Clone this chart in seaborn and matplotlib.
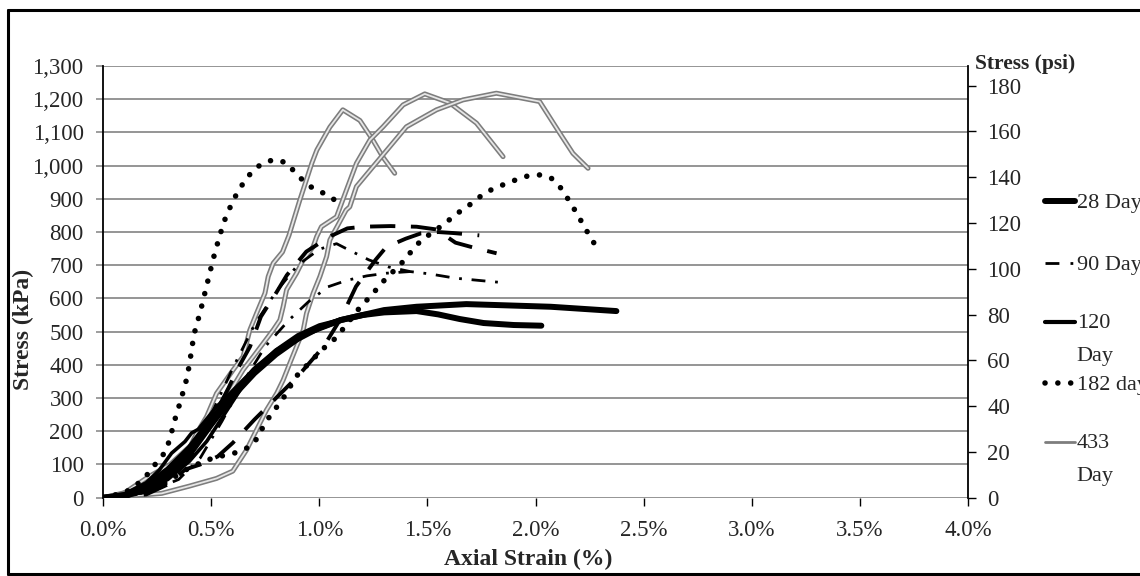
import numpy as np
import pandas as pd
import seaborn as sns
import matplotlib
matplotlib.use("Agg")
import matplotlib.pyplot as plt
import matplotlib.patheffects as pe
from matplotlib.lines import Line2D
from matplotlib.legend_handler import HandlerLine2D
from matplotlib.ticker import FuncFormatter, MultipleLocator

# ---------------- data (strain in %, stress in kPa) ----------------
d28a_strain = [0, 0.10, 0.20, 0.30, 0.40, 0.50, 0.60, 0.70, 0.80, 0.94, 1.10, 1.30, 1.45, 1.68, 2.07, 2.374]
d28a_stress = [0, 8, 35, 85, 150, 235, 310, 385, 440, 495, 535, 565, 575, 583, 575, 562]
d28b_strain = [0, 0.10, 0.20, 0.30, 0.40, 0.50, 0.60, 0.70, 0.80, 0.90, 1.00, 1.10, 1.20, 1.30, 1.45, 1.55, 1.65, 1.76, 1.90, 2.027]
d28b_stress = [0, 5, 25, 65, 130, 220, 305, 375, 432, 478, 512, 535, 550, 558, 562, 552, 538, 526, 520, 518]

d120a_strain = [0, 0.10, 0.20, 0.26, 0.317, 0.379, 0.41, 0.441, 0.525, 0.602, 0.71, 0.818, 0.941, 1.095, 1.25]
d120a_stress = [0, 12, 45, 83, 134, 169, 195, 206, 274, 324, 395, 445, 495, 535, 555]
d120b_strain = [0, 0.15, 0.30, 0.40, 0.48, 0.56, 0.64, 0.72, 0.80, 0.90, 1.00, 1.12]
d120b_stress = [0, 10, 55, 110, 170, 250, 330, 395, 445, 490, 520, 540]

d90a_strain = [0, 0.15, 0.30, 0.40, 0.50, 0.60, 0.70, 0.80, 0.90, 1.00, 1.08, 1.14, 1.23, 1.32, 1.42, 1.51, 1.63, 1.76, 1.86]
d90a_stress = [0, 12, 60, 130, 250, 390, 520, 620, 700, 748, 765, 745, 716, 695, 681, 674, 661, 653, 647]
d90b_strain = [0, 0.20, 0.35, 0.45, 0.55, 0.65, 0.75, 0.86, 0.95, 1.04, 1.13, 1.22, 1.31, 1.42]
d90b_stress = [0, 15, 55, 120, 230, 350, 455, 535, 590, 635, 655, 668, 676, 681]
d90c_strain = [0, 0.15, 0.30, 0.40, 0.50, 0.58, 0.62, 0.68, 0.73, 0.80, 0.85, 0.94, 1.00, 1.06, 1.13, 1.20, 1.33, 1.45, 1.54, 1.63, 1.72, 1.82]
d90c_stress = [0, 8, 45, 120, 230, 330, 385, 455, 545, 616, 670, 741, 766, 790, 811, 816, 818, 816, 808, 768, 752, 736]
d90d_strain = [0, 0.20, 0.30, 0.38, 0.45, 0.53, 0.60, 0.70, 0.80, 0.90, 1.02, 1.10, 1.17, 1.26, 1.31, 1.40, 1.47, 1.55, 1.62, 1.74]
d90d_stress = [0, 10, 40, 85, 100, 124, 165, 235, 300, 365, 455, 540, 636, 716, 755, 780, 796, 800, 797, 790]

d182a_strain = [0, 0.10, 0.15, 0.21, 0.25, 0.29, 0.31, 0.33, 0.36, 0.39, 0.41, 0.42, 0.45, 0.48, 0.51, 0.54, 0.57, 0.61, 0.66, 0.71, 0.76, 0.80, 0.85, 0.89, 0.93, 0.97, 1.02, 1.06, 1.10]
d182a_stress = [0, 15, 35, 73, 108, 139, 179, 230, 294, 365, 445, 490, 560, 640, 720, 790, 850, 905, 960, 995, 1013, 1018, 1008, 978, 952, 932, 917, 902, 882]
d182b_strain = [0, 0.10, 0.25, 0.32, 0.38, 0.46, 0.53, 0.58, 0.63, 0.68, 0.72, 0.74, 0.77, 0.81, 0.85, 0.87, 0.90, 1.02, 1.06, 1.10, 1.20, 1.24, 1.28, 1.40, 1.43, 1.47, 1.56, 1.60, 1.64, 1.69, 1.73, 1.77, 1.82, 1.87, 1.92, 1.97, 2.02, 2.07, 2.11, 2.14, 2.17, 2.20, 2.23, 2.26, 2.29]
d182b_stress = [0, 5, 30, 58, 83, 108, 124, 129, 139, 154, 184, 214, 244, 279, 315, 340, 370, 450, 470, 500, 583, 607, 641, 719, 746, 774, 816, 836, 857, 879, 900, 919, 935, 947, 960, 970, 972, 964, 939, 910, 879, 846, 811, 778, 746]

d433a_strain = [0, 0.07, 0.15, 0.29, 0.38, 0.433, 0.479, 0.525, 0.602, 0.648, 0.679, 0.71, 0.749, 0.764, 0.787, 0.83, 0.86, 0.91, 0.966, 0.989, 1.049, 1.109, 1.188, 1.248, 1.294, 1.349]
d433a_stress = [0, 6, 30, 74, 122, 194, 244, 314, 385, 425, 505, 555, 616, 666, 706, 740, 790, 896, 1008, 1047, 1116, 1168, 1136, 1077, 1026, 977]
d433b_strain = [0, 0.10, 0.208, 0.31, 0.417, 0.463, 0.51, 0.556, 0.602, 0.648, 0.695, 0.741, 0.787, 0.818, 0.833, 0.849, 0.895, 0.926, 0.972, 0.988, 1.01, 1.08, 1.126, 1.172, 1.234, 1.295, 1.388, 1.488, 1.603, 1.727, 1.85]
d433b_stress = [0, 15, 62, 100, 164, 204, 244, 284, 335, 385, 425, 465, 505, 535, 575, 626, 676, 716, 756, 786, 816, 846, 927, 1007, 1077, 1117, 1183, 1216, 1189, 1128, 1027]
d433c_strain = [0, 0.12, 0.271, 0.40, 0.525, 0.60, 0.664, 0.71, 0.756, 0.803, 0.833, 0.864, 0.895, 0.926, 0.941, 0.972, 1.003, 1.034, 1.049, 1.124, 1.141, 1.172, 1.249, 1.326, 1.403, 1.542, 1.665, 1.819, 2.019, 2.112, 2.173, 2.243]
d433c_stress = [0, 5, 13, 35, 58, 80, 144, 204, 264, 314, 354, 405, 455, 505, 555, 616, 666, 726, 776, 866, 876, 937, 997, 1057, 1117, 1168, 1198, 1218, 1193, 1098, 1037, 992]

ages = ["28 Day", "90 Day", "120 Day", "182 day", "433 Day"]
legend_labels = ["28 Day", "90 Day", "120\nDay", "182 day", "433\nDay"]
x_ticks = [0, 0.5, 1.0, 1.5, 2.0, 2.5, 3.0, 3.5, 4.0]
psi_ticks = [0, 20, 40, 60, 80, 100, 120, 140, 160, 180]
KPA_TO_PSI = 0.145038

curves = [
    ("433 Day", "433a", d433a_strain, d433a_stress),
    ("433 Day", "433b", d433b_strain, d433b_stress),
    ("433 Day", "433c", d433c_strain, d433c_stress),
    ("182 day", "182a", d182a_strain, d182a_stress),
    ("182 day", "182b", d182b_strain, d182b_stress),
    ("90 Day", "90a", d90a_strain, d90a_stress),
    ("90 Day", "90b", d90b_strain, d90b_stress),
    ("90 Day", "90c", d90c_strain, d90c_stress),
    ("90 Day", "90d", d90d_strain, d90d_stress),
    ("120 Day", "120a", d120a_strain, d120a_stress),
    ("120 Day", "120b", d120b_strain, d120b_stress),
    ("28 Day", "28a", d28a_strain, d28a_stress),
    ("28 Day", "28b", d28b_strain, d28b_stress),
]
rows = []
for age, spec, xs, ys in curves:
    for i, (xv, yv) in enumerate(zip(xs, ys)):
        rows.append({"age": age, "specimen": spec, "order": i, "strain": xv, "stress": yv})
df = pd.DataFrame(rows)

# ---------------- styles ----------------
gray_pe = [pe.Stroke(linewidth=3.6, foreground="#7d7d7d"), pe.Normal()]
dot_style = (0, (0.01, 2.3))
styles = {
    "433": dict(color="#e6e6e6", linewidth=1.3, path_effects=gray_pe),
    "182": dict(color="black", linewidth=4.0, linestyle=dot_style, dash_capstyle="round"),
    "90a": dict(color="black", linewidth=2.0, linestyle=(0, (5, 3.5, 1, 3.5))),
    "90b": dict(color="black", linewidth=2.0, linestyle=(0, (5, 3.5, 1, 3.5))),
    "90c": dict(color="black", linewidth=2.8, linestyle=(0, (6.5, 4))),
    "90d": dict(color="black", linewidth=2.8, linestyle=(0, (6.5, 4))),
    "120": dict(color="black", linewidth=2.6),
    "28": dict(color="black", linewidth=4.3, solid_capstyle="round"),
}

def style_for(spec):
    if spec in styles:
        return styles[spec]
    return styles[spec[:-1]]

sns.set_theme(style="white")
plt.rcParams["font.family"] = ["Liberation Serif", "DejaVu Serif"]

W, H = 1140, 576
fig = plt.figure(figsize=(W / 100, H / 100), dpi=100)
ax = fig.add_axes([103 / W, 78.3 / H, 865 / W, 431.7 / H])

for age, spec, _, _ in curves:
    sub = df[df["specimen"] == spec].sort_values("order")
    sns.lineplot(data=sub, x="strain", y="stress", sort=False, estimator=None,
                 ax=ax, legend=False, **style_for(spec))

ax.set_xlim(0, 4)
ax.set_ylim(0, 1300)
ax.set_xticks(x_ticks)
ax.xaxis.set_major_formatter(FuncFormatter(lambda v, p: f"{v:.1f}%"))
ax.yaxis.set_major_locator(MultipleLocator(100))
ax.yaxis.set_major_formatter(FuncFormatter(lambda v, p: f"{v:,.0f}"))
ax.grid(axis="y", color="#8c8c8c", linewidth=1.3)
ax.grid(axis="x", visible=False)
ax.set_axisbelow(True)
for s in ["top", "right", "bottom"]:
    ax.spines[s].set_visible(False)
ax.spines["left"].set_color("black")
ax.spines["left"].set_linewidth(1.3)
ax.tick_params(axis="y", direction="out", length=5, width=1.2, color="#8c8c8c",
               labelsize=16.5, pad=9, left=True)
ax.tick_params(axis="x", direction="out", length=6, width=1.0, color="black",
               labelsize=16.5, pad=10, bottom=True)
ax.set_ylabel("Stress (kPa)", fontsize=17, fontweight="bold")
ax.yaxis.set_label_coords(-0.080, 0.39)
ax.set_xlabel("Axial Strain (%)", fontsize=17, fontweight="bold")
ax.xaxis.set_label_coords(0.491, -0.118)

ax2 = ax.twinx()
ax2.set_ylim(0, 1300 * KPA_TO_PSI)
ax2.set_yticks(psi_ticks)
ax2.grid(False)
for s in ["top", "left", "bottom"]:
    ax2.spines[s].set_visible(False)
ax2.spines["right"].set_color("black")
ax2.spines["right"].set_linewidth(1.3)
ax2.tick_params(axis="y", direction="out", length=6, width=1.0, color="black",
                labelsize=16.5, pad=8, right=True)
ax.text(1.008, 0.981, "Stress (psi)", transform=ax.transAxes, fontsize=15.5,
        fontweight="bold", ha="left", va="bottom")

# ---------------- legend ----------------
class UpperHandler(HandlerLine2D):
    def __init__(self, shift=0.0, **kw):
        super().__init__(**kw)
        self.shift = shift

    def create_artists(self, legend, orig_handle, xdescent, ydescent, width,
                       height, fontsize, trans):
        arts = super().create_artists(legend, orig_handle, xdescent, ydescent,
                                      width, height, fontsize, trans)
        for a in arts:
            a.set_ydata(np.asarray(a.get_ydata(), dtype=float) + self.shift)
        return arts

handles = [
    Line2D([], [], color="black", linewidth=4.3),
    Line2D([], [], color="black", linewidth=2.0, linestyle=(0, (5, 4, 1, 4))),
    Line2D([], [], color="black", linewidth=3.0),
    Line2D([], [], color="black", linewidth=4.0, linestyle=dot_style, dash_capstyle="round"),
    Line2D([], [], color="#7d7d7d", linewidth=2.0),
]
handle_y = [203, 265, 323, 385, 443]
line_gap = 33  # px between wrapped lines
for h, lab, yy in zip(handles, legend_labels, handle_y):
    nlines = lab.count("\n") + 1
    shift_pts = (nlines - 1) * line_gap / 2 * 0.72
    center_y = yy + (nlines - 1) * line_gap / 2
    leg = fig.legend(handles=[h], labels=[lab], loc="center left",
                     bbox_to_anchor=(1045 / W, 1 - center_y / H), frameon=False,
                     fontsize=16, handlelength=1.35, handletextpad=0.08,
                     borderpad=0, borderaxespad=0,
                     handler_map={h: UpperHandler(shift=shift_pts)})
    for t in leg.get_texts():
        t.set_linespacing(2.0)

# ---------------- outer frame ----------------
fl = dict(color="black", linewidth=2.2, transform=fig.transFigure, clip_on=False)
fig.add_artist(Line2D([8 / W, 1.0], [1 - 10 / H, 1 - 10 / H], **fl))
fig.add_artist(Line2D([8 / W, 8 / W], [2 / H, 1 - 10 / H], **fl))
fig.add_artist(Line2D([8 / W, 1.0], [2 / H, 2 / H], **fl))

fig.savefig("out.png", dpi=100, facecolor="white")
